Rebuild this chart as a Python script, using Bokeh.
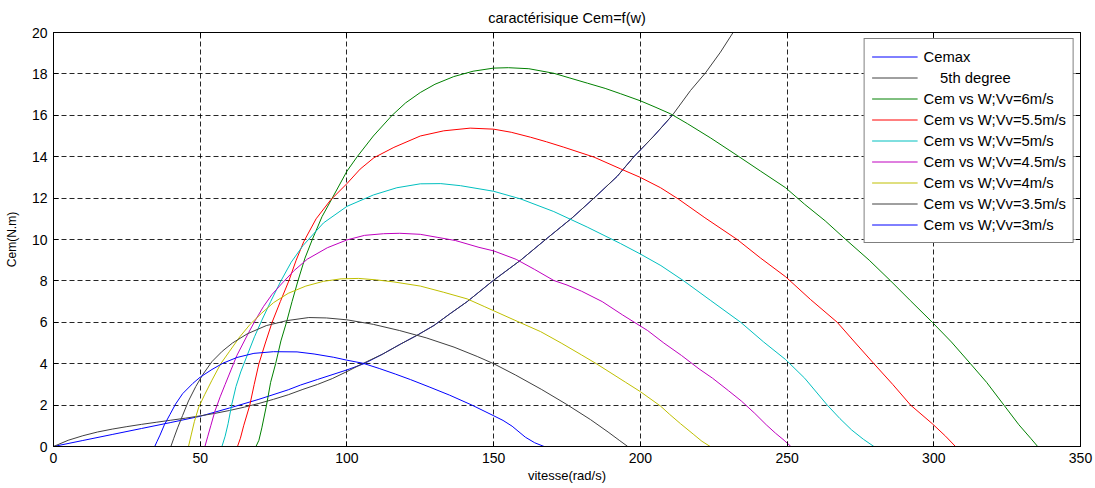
from bokeh.plotting import figure
from bokeh.models import Range1d, LinearAxis, FixedTicker
from bokeh.embed import file_html
from bokeh.resources import INLINE

FONT = "Liberation Sans"

# axis ticks
x_ticks = [0, 50, 100, 150, 200, 250, 300, 350]
y_ticks = [0, 2, 4, 6, 8, 10, 12, 14, 16, 18, 20]

# optimal torque curve
w_cemax = [0, 10, 20, 30, 40, 50, 60, 70, 80, 84.2, 90, 100, 105.8, 112, 118.3, 124,
           129.7, 135, 141, 149.7, 159.2, 167.7, 176.8, 184.2, 192.1, 197.8, 204.6, 210.9]
cemax = [0, 0.29, 0.58, 0.87, 1.16, 1.46, 1.86, 2.28, 2.74, 2.97, 3.24, 3.7, 4.0, 4.45, 4.95, 5.38,
         5.85, 6.4, 7.0, 8.0, 9.0, 10.0, 11.05, 12.0, 13.05, 14.0, 15.0, 16.0]

# 5th degree polynomial fit
w_poly = [0, 5, 10, 15, 20, 25, 30, 35, 40, 45, 50, 55, 60, 65, 70, 75, 80, 85, 90, 95, 100,
          105, 112, 118.3, 124, 129.7, 135, 141, 149.7, 159.2, 167.7, 176.8, 184.2, 192.1,
          197.8, 204.6, 210.9, 217.1, 222.2, 227.3, 231.6, 234]
poly5 = [0, 0.3, 0.52, 0.7, 0.84, 0.96, 1.07, 1.17, 1.27, 1.37, 1.48, 1.6, 1.74, 1.9, 2.08, 2.28,
         2.5, 2.76, 3.0, 3.28, 3.62, 3.98, 4.45, 4.95, 5.38, 5.85, 6.4, 7.0, 8.0, 9.0, 10.0, 11.05,
         12.0, 13.05, 14.0, 15.0, 16.0, 17.2, 18.05, 19.05, 20.0, 20.6]

# electromagnetic torque vs speed, one curve per wind speed
w_v6 = [0, 69, 70, 71, 72.6, 74, 75.7, 77.5, 79.4, 81.3, 83.3, 85.7, 88.2, 91.5, 95, 100, 103.5,
        109, 115.4, 120, 125, 130, 136.4, 143, 150, 155, 162, 170.5, 176, 182, 188, 193.3, 200,
        205, 210.3, 216, 224, 233, 241, 249.5, 256, 263, 270, 278, 285.3, 292, 299.5, 306, 312.5,
        318, 323.9, 329, 333, 335.4, 350]
cem_v6 = [0, 0, 0.3, 0.9, 2, 3.1, 4, 5.1, 6, 7, 8, 9.1, 10, 11.1, 12, 13.3, 14,
          15, 16, 16.6, 17.1, 17.5, 17.87, 18.13, 18.28, 18.3, 18.25, 18.03, 17.8, 17.55, 17.3, 17.04, 16.7,
          16.4, 16.07, 15.6, 14.9, 14.06, 13.3, 12.5, 11.7, 10.9, 10.0, 9.0, 8.0, 7.05, 6.0, 5.05, 4.0,
          3.1, 2.0, 1.05, 0.4, 0, 0]

w_v55 = [0, 62.7, 63.7, 64.8, 66.9, 68.4, 70, 72.2, 74.5, 77.3, 80.2, 82.7, 85.3, 89.5, 94.4, 100,
         104.5, 109.2, 116, 125, 133, 142, 150, 156, 162.6, 168, 173.9, 184.2, 193.3, 200, 206.9,
         213, 222, 233, 241, 249.5, 258, 267.1, 273, 279.6, 286, 292.1, 299.5, 304, 307.4, 350]
cem_v55 = [0, 0, 0.4, 1.0, 2, 3, 4, 5, 6, 7, 8, 9, 9.9, 11.0, 11.9, 12.7,
           13.4, 13.95, 14.45, 15.0, 15.25, 15.38, 15.33, 15.18, 14.94, 14.72, 14.46, 13.98, 13.41, 13.0, 12.5,
           11.95, 11.05, 10.0, 9.1, 8.2, 7.1, 6.0, 5.05, 4.0, 3.0, 2.0, 1.1, 0.5, 0, 0]

w_v5 = [0, 57.4, 58.5, 59.5, 60.7, 62.2, 63.8, 66, 68.5, 71, 74, 77.5, 81, 85, 92, 100, 109, 117,
        125, 132, 138.7, 150, 159.2, 170.5, 181.9, 193.3, 200, 207, 214.8, 224, 234.2, 242, 249.5,
        256, 263.7, 268, 272, 276, 279.6, 350]
cem_v5 = [0, 0, 0.5, 1.1, 2, 2.9, 3.6, 4.4, 5.3, 6.1, 7, 8, 8.9, 9.7, 10.8, 11.6, 12.15, 12.5,
          12.69, 12.7, 12.6, 12.33, 11.96, 11.35, 10.6, 9.8, 9.3, 8.74, 8.0, 7.05, 6.0, 5.05, 4.2,
          3.3, 2.0, 1.35, 0.8, 0.35, 0, 0]

w_v45 = [0, 51.6, 52.6, 53.6, 55, 56.8, 58.5, 60.5, 62.5, 64.5, 66.5, 68.8, 71.5, 74.5, 78, 82,
         86.5, 93.3, 100, 106, 112.5, 118, 125, 131, 137, 145, 150, 157.7, 164, 170.5, 175, 180,
         187, 194, 202.5, 208, 214, 220, 224.6, 230, 234.4, 239, 242.9, 246, 249, 251.3, 350]
cem_v45 = [0, 0, 0.5, 1.0, 1.7, 2.4, 3.0, 3.7, 4.4, 4.95, 5.5, 6.1, 6.75, 7.35, 7.9, 8.5,
           9.05, 9.6, 9.98, 10.2, 10.28, 10.3, 10.25, 10.1, 9.95, 9.62, 9.45, 9.04, 8.55, 8.02, 7.8, 7.5,
           7.0, 6.35, 5.6, 5.0, 4.4, 3.75, 3.3, 2.7, 2.2, 1.6, 1.05, 0.65, 0.3, 0, 0]

w_v4 = [0, 46, 47, 48, 49.5, 51.5, 54, 57, 60, 63.5, 67, 71, 75, 80, 86, 92, 98, 104, 110, 116,
        125, 133, 141, 147, 152.5, 158, 166, 173, 180, 185, 190, 195, 200, 206.9, 210, 213.7, 218,
        221, 223.8, 350]
cem_v4 = [0, 0, 0.6, 1.2, 1.9, 2.5, 3.2, 4.0, 4.6, 5.3, 5.9, 6.45, 6.95, 7.4, 7.75, 7.98, 8.1,
          8.12, 8.05, 7.95, 7.75, 7.45, 7.13, 6.75, 6.4, 6.05, 5.55, 5.0, 4.42, 4.0, 3.55, 3.1,
          2.65, 1.95, 1.55, 1.1, 0.6, 0.25, 0, 0]

w_v35 = [0, 40, 41, 42.3, 44, 46, 48.5, 51, 54, 57.5, 61, 66, 72.5, 79.5, 87, 93, 100, 109, 118,
         127, 136.5, 144.4, 150, 157.5, 166.4, 174.7, 183, 189, 193, 195.7, 350]
cem_v35 = [0, 0, 0.4, 0.9, 1.5, 2.2, 2.9, 3.5, 4.1, 4.6, 5.0, 5.44, 5.84, 6.08, 6.23, 6.21,
           6.12, 5.9, 5.6, 5.25, 4.8, 4.35, 4.0, 3.45, 2.75, 2.05, 1.3, 0.7, 0.28, 0, 0]

w_v3 = [0, 34.5, 35.3, 36.3, 37.8, 39.7, 41.6, 44, 47.5, 50, 54, 57.7, 62.5, 68.3, 75, 83, 88.8,
        95.5, 100, 105.5, 111, 116.5, 121.7, 128, 135, 142.6, 149.8, 153.2, 156.3, 160.8, 164,
        167.2, 350]
cem_v3 = [0, 0, 0.25, 0.55, 1.05, 1.55, 2.05, 2.55, 3.05, 3.35, 3.72, 4.02, 4.3, 4.5, 4.58, 4.57,
          4.47, 4.31, 4.17, 4.02, 3.77, 3.5, 3.23, 2.88, 2.48, 2.0, 1.5, 1.26, 0.98, 0.45, 0.18, 0, 0]

series = [
    (w_cemax, cemax, "#0000ff", "Cemax"),
    (w_poly, poly5, "#404040", "\u00a0\u00a0\u00a0\u00a05th degree"),
    (w_v6, cem_v6, "#008000", "Cem vs W;Vv=6m/s"),
    (w_v55, cem_v55, "#ff0000", "Cem vs W;Vv=5.5m/s"),
    (w_v5, cem_v5, "#00bfbf", "Cem vs W;Vv=5m/s"),
    (w_v45, cem_v45, "#bf00bf", "Cem vs W;Vv=4.5m/s"),
    (w_v4, cem_v4, "#bfbf00", "Cem vs W;Vv=4m/s"),
    (w_v35, cem_v35, "#404040", "Cem vs W;Vv=3.5m/s"),
    (w_v3, cem_v3, "#0000ff", "Cem vs W;Vv=3m/s"),
]

p = figure(width=1095, height=488, output_backend="svg", toolbar_location=None,
           x_range=Range1d(0, 350), y_range=Range1d(0, 20),
           min_border_left=53, min_border_right=15, min_border_top=32, min_border_bottom=42,
           title="caractérisique Cem=f(w)")
p.background_fill_color = "white"
p.border_fill_color = "white"
p.outline_line_color = "black"
p.outline_line_width = 1

p.title.align = "center"
p.title.text_font = FONT
p.title.text_font_size = "14.5px"
p.title.text_font_style = "normal"
p.title.text_color = "black"
p.title.standoff = 14

for x, y, color, label in series:
    p.line(x, y, line_color=color, line_width=1, legend_label=label)

xt = FixedTicker(ticks=x_ticks)
yt = FixedTicker(ticks=y_ticks)


def style_axis(ax, labels=True):
    ax.axis_line_color = "black"
    ax.major_tick_line_color = "black"
    ax.major_tick_in = 5
    ax.major_tick_out = 0
    ax.minor_tick_line_color = None
    ax.major_label_text_font = FONT
    ax.major_label_text_font_size = "14px" if labels else "2px"
    ax.major_label_text_color = "black" if labels else None
    ax.axis_label_text_font = FONT
    ax.axis_label_text_font_style = "normal"
    ax.axis_label_text_color = "black"


p.xaxis.ticker = xt
p.yaxis.ticker = yt
style_axis(p.xaxis[0])
style_axis(p.yaxis[0])
p.xaxis.axis_label = "vitesse(rad/s)"
p.xaxis.axis_label_text_font_size = "13px"
p.xaxis.major_label_standoff = 6
p.xaxis.axis_label_standoff = 2
p.yaxis.axis_label = "Cem(N.m)"
p.yaxis.axis_label_text_font_size = "12px"
p.yaxis.major_label_standoff = 6
p.yaxis.axis_label_standoff = 10

# tick marks on the opposite sides of the box
top_ax = LinearAxis(ticker=xt)
right_ax = LinearAxis(ticker=yt)
style_axis(top_ax, labels=False)
style_axis(right_ax, labels=False)
top_ax.major_label_standoff = 0
right_ax.major_label_standoff = 0
p.add_layout(top_ax, "above")
p.add_layout(right_ax, "right")

for g in (p.xgrid[0], p.ygrid[0]):
    g.grid_line_color = "black"
    g.grid_line_alpha = 0.85
    g.grid_line_dash = "5 3"
    g.grid_line_width = 1
p.xgrid.ticker = xt
p.ygrid.ticker = yt

lg = p.legend[0]
lg.location = "top_right"
lg.margin = 6
lg.padding = 7
lg.spacing = 0
lg.glyph_width = 46
lg.glyph_height = 21
lg.label_height = 21
lg.label_standoff = 6
lg.label_text_font = FONT
lg.label_text_font_size = "14.8px"
lg.label_text_color = "black"
lg.border_line_color = "black"
lg.border_line_width = 1
lg.background_fill_color = "white"
lg.background_fill_alpha = 1.0

open("out.html", "w").write(file_html(p, INLINE))
